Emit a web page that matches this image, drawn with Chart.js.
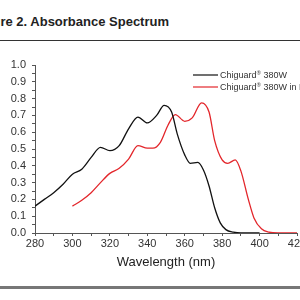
<!DOCTYPE html>
<html>
<head>
<meta charset="utf-8">
<script src="https://cdn.jsdelivr.net/npm/chart.js@4/dist/chart.umd.min.js"></script>
<style>
  html, body { margin: 0; padding: 0; background: #fff; }
  body { width: 300px; height: 300px; position: relative; overflow: hidden; }
  #title { position: absolute; left: -27px; top: 14px; font: bold 13px Arial, "Liberation Sans", sans-serif; color: #222; white-space: nowrap; }
  #rule-top { position: absolute; left: 0; top: 40px; width: 300px; height: 1px; background: #333; }
  #rule-bottom { position: absolute; left: 0; top: 286px; width: 300px; height: 3px; background: #777; }
  #wrap { position: absolute; left: 0; top: 50px; }
</style>
</head>
<body>
<div id="title">Figure 2. Absorbance Spectrum</div>
<div id="rule-top"></div>
<div id="wrap"><canvas id="chart" width="340" height="230"></canvas></div>
<div id="rule-bottom"></div>
<script>
  // values
  const PURE_NM = [280, 285, 290, 295, 300, 305, 310, 315, 320, 325, 330, 335, 340, 345, 349, 353, 356, 360, 363, 367, 370, 373, 376, 379, 382, 386, 390, 395, 400];
  const PURE_ABS = [0.16, 0.20, 0.24, 0.29, 0.35, 0.38, 0.45, 0.51, 0.49, 0.52, 0.62, 0.69, 0.655, 0.70, 0.76, 0.72, 0.59, 0.465, 0.415, 0.42, 0.375, 0.28, 0.15, 0.06, 0.02, 0.005, 0, 0, 0];

  const FILM_NM = [300, 305, 310, 315, 320, 325, 330, 335, 340, 343, 347, 351, 355, 360, 364, 369, 373, 376, 380, 383, 387, 390, 394, 397, 401, 405, 410, 420];
  const FILM_ABS = [0.16, 0.195, 0.24, 0.30, 0.355, 0.385, 0.44, 0.52, 0.505, 0.505, 0.54, 0.64, 0.705, 0.665, 0.685, 0.775, 0.72, 0.55, 0.435, 0.415, 0.435, 0.37, 0.20, 0.09, 0.025, 0.005, 0, 0];

  // legend text split as [before ®, after ®] so the mark can be raised
  const SERIES_LABELS = [["Chiguard", " 380W"], ["Chiguard", " 380W in PMMA"]];
  const SERIES_COLORS = ["#111111", "#e3262b"];

  function toPoints(xs, ys) {
    return xs.map(function (x, i) { return { x: x, y: ys[i] }; });
  }

  const FONT = "Arial, 'Liberation Sans', sans-serif";

  // legend drawn inside the plot, top right, like the figure
  const insideLegend = {
    id: "insideLegend",
    afterDraw: function (chart) {
      const ctx = chart.ctx;
      const area = chart.chartArea;
      ctx.save();
      ctx.textBaseline = "alphabetic";
      chart.data.datasets.forEach(function (ds, i) {
        const y = area.top + 10 + i * 12;
        const x0 = area.left + 158;
        ctx.strokeStyle = ds.borderColor;
        ctx.lineWidth = 1.2;
        ctx.beginPath();
        ctx.moveTo(x0, y);
        ctx.lineTo(x0 + 25, y);
        ctx.stroke();
        ctx.fillStyle = "#333";
        let x = x0 + 27;
        const base = y + 3.2;
        ctx.font = "9px " + FONT;
        ctx.fillText(ds.label[0], x, base);
        x += ctx.measureText(ds.label[0]).width + 0.3;
        ctx.font = "5.5px " + FONT;
        ctx.fillText("®", x, base - 3.5);
        x += ctx.measureText("®").width;
        ctx.font = "9px " + FONT;
        ctx.fillText(ds.label[1], x, base);
      });
      ctx.restore();
    }
  };

  new Chart(document.getElementById("chart"), {
    type: "line",
    data: {
      datasets: [
        { label: SERIES_LABELS[0], data: toPoints(PURE_NM, PURE_ABS), borderColor: SERIES_COLORS[0] },
        { label: SERIES_LABELS[1], data: toPoints(FILM_NM, FILM_ABS), borderColor: SERIES_COLORS[1] }
      ]
    },
    options: {
      responsive: false,
      animation: false,
      layout: { padding: { top: 15, right: 43, left: 0, bottom: 0 } },
      elements: {
        point: { radius: 0 },
        line: { borderWidth: 1.3, cubicInterpolationMode: "monotone", fill: false }
      },
      plugins: { legend: { display: false }, tooltip: { enabled: false } },
      scales: {
        x: {
          type: "linear",
          min: 280,
          max: 420,
          border: { display: true, color: "#555", width: 1 },
          grid: { drawOnChartArea: false, drawTicks: true, tickLength: 3, color: "#555" },
          ticks: {
            stepSize: 10,
            autoSkip: false,
            maxRotation: 0,
            padding: 1,
            color: "#333",
            font: { family: FONT, size: 11 },
            callback: function (v) { return v % 20 === 0 ? String(v) : ""; }
          },
          title: {
            display: true,
            text: "Wavelength (nm)",
            color: "#222",
            padding: { top: 4, bottom: 10 },
            font: { family: FONT, size: 13 }
          },
          afterFit: function (scale) { scale.height = 47; }
        },
        y: {
          min: 0,
          max: 1,
          border: { display: true, color: "#555", width: 1 },
          grid: { drawOnChartArea: false, drawTicks: true, tickLength: 3, color: "#555" },
          ticks: {
            stepSize: 0.05,
            autoSkip: false,
            padding: 6,
            color: "#333",
            font: { family: FONT, size: 11 },
            callback: function (v, i) { return i % 2 === 0 ? v.toFixed(1) : ""; }
          },
          afterFit: function (scale) { scale.width = 35; }
        }
      }
    },
    plugins: [insideLegend]
  });
</script>
</body>
</html>
